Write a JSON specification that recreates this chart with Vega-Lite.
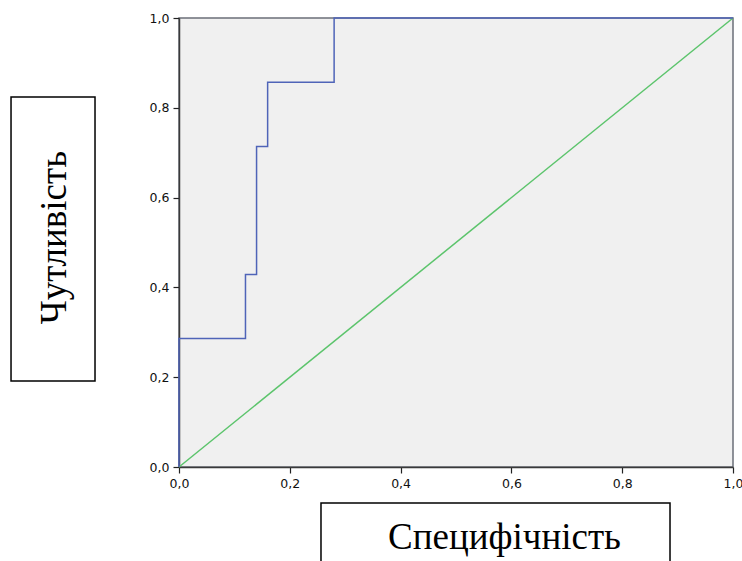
{
  "$schema": "https://vega.github.io/schema/vega-lite/v6.json",
  "autosize": {"type": "none"},
  "padding": {"left": 179, "top": 18, "right": 9, "bottom": 94},
  "width": 554,
  "height": 449,
  "background": "white",
  "config": {
    "view": {"fill": "#f0f0f0", "stroke": "#6b6f78", "strokeWidth": 1.5},
    "axis": {
      "grid": false,
      "domainColor": "#3a3a3a",
      "domainWidth": 1.5,
      "tickColor": "#222",
      "tickSize": 6,
      "tickWidth": 1.2,
      "labelFont": "DejaVu Sans",
      "labelFontSize": 12.5,
      "labelColor": "#111",
      "labelFlush": false,
      "title": null
    }
  },
  "datasets": {
    "roc": [
      {"i": 0, "fpr": 0.0, "tpr": 0.0},
      {"i": 1, "fpr": 0.0, "tpr": 0.286},
      {"i": 2, "fpr": 0.12, "tpr": 0.286},
      {"i": 3, "fpr": 0.12, "tpr": 0.429},
      {"i": 4, "fpr": 0.14, "tpr": 0.429},
      {"i": 5, "fpr": 0.14, "tpr": 0.714},
      {"i": 6, "fpr": 0.16, "tpr": 0.714},
      {"i": 7, "fpr": 0.16, "tpr": 0.857},
      {"i": 8, "fpr": 0.28, "tpr": 0.857},
      {"i": 9, "fpr": 0.28, "tpr": 1.0},
      {"i": 10, "fpr": 1.0, "tpr": 1.0}
    ],
    "diag": [
      {"i": 0, "fpr": 0.0, "tpr": 0.0},
      {"i": 1, "fpr": 1.0, "tpr": 1.0}
    ],
    "labels": [
      {"axis": "x", "label": "Специфічність"},
      {"axis": "y", "label": "Чутливість"}
    ]
  },
  "layer": [
    {
      "data": {"name": "diag"},
      "mark": {"type": "line", "color": "#5cc46c", "strokeWidth": 1.5},
      "encoding": {
        "x": {"field": "fpr", "type": "quantitative", "scale": {"domain": [0, 1], "nice": false},
              "axis": {"values": [0, 0.2, 0.4, 0.6, 0.8, 1], "labelExpr": "replace(format(datum.value, '.1f'), '.', ',')", "labelPadding": 4}},
        "y": {"field": "tpr", "type": "quantitative", "scale": {"domain": [0, 1], "nice": false},
              "axis": {"values": [0, 0.2, 0.4, 0.6, 0.8, 1], "labelExpr": "replace(format(datum.value, '.1f'), '.', ',')", "labelPadding": 4}},
        "order": {"field": "i"}
      }
    },
    {
      "data": {"name": "roc"},
      "mark": {"type": "line", "color": "#4f64b8", "strokeWidth": 1.5},
      "encoding": {
        "x": {"field": "fpr", "type": "quantitative"},
        "y": {"field": "tpr", "type": "quantitative"},
        "order": {"field": "i"}
      }
    },
    {
      "data": {"values": [{}]},
      "mark": {"type": "rect", "fill": "white", "stroke": "black", "strokeWidth": 1.5, "clip": false},
      "encoding": {
        "x": {"datum": 0.2563},
        "x2": {"datum": 0.8863},
        "y": {"datum": -0.0802},
        "y2": {"datum": -0.3}
      }
    },
    {
      "data": {"values": [{}]},
      "mark": {"type": "rect", "fill": "white", "stroke": "black", "strokeWidth": 1.5, "clip": false},
      "encoding": {
        "x": {"datum": -0.3032},
        "x2": {"datum": -0.1516},
        "y": {"datum": 0.8241},
        "y2": {"datum": 0.1915}
      }
    },
    {
      "data": {"name": "labels"},
      "transform": [{"filter": "datum.axis == 'x'"}],
      "mark": {"type": "text", "font": "Liberation Serif", "fontSize": 37, "color": "black", "align": "center", "baseline": "middle", "clip": false},
      "encoding": {
        "x": {"datum": 0.5875},
        "y": {"datum": -0.158},
        "text": {"field": "label"}
      }
    },
    {
      "data": {"name": "labels"},
      "transform": [{"filter": "datum.axis == 'y'"}],
      "mark": {"type": "text", "font": "Liberation Serif", "fontSize": 37, "color": "black", "align": "center", "baseline": "middle", "angle": 270, "clip": false},
      "encoding": {
        "x": {"datum": -0.224},
        "y": {"datum": 0.511},
        "text": {"field": "label"}
      }
    }
  ]
}
